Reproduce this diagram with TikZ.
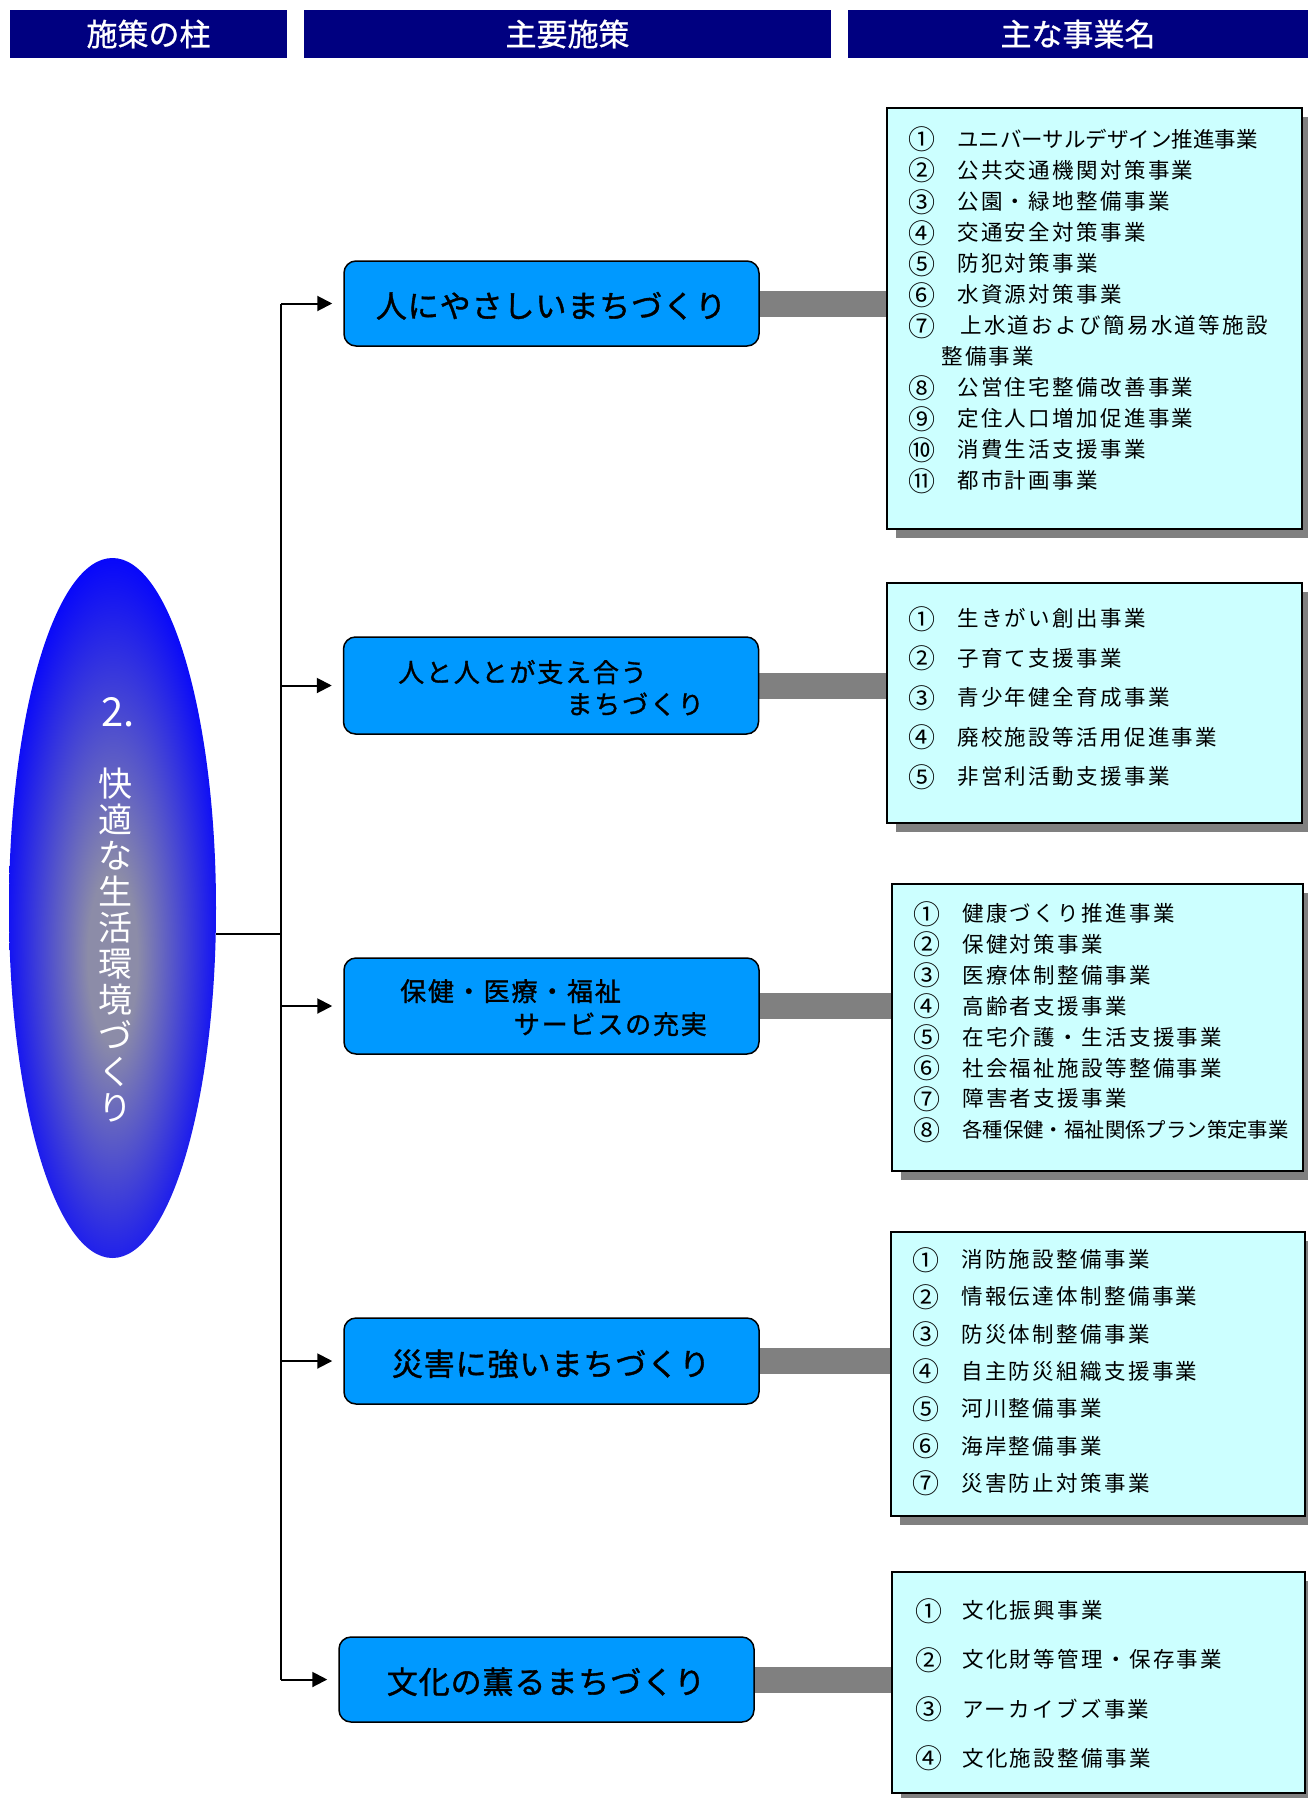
\documentclass[tikz,border=0pt]{standalone}
\usepackage{fontspec}
\setmainfont{Noto Sans CJK JP}
\newfontfamily\jp{Noto Sans CJK JP}
\newfontfamily\jpls[LetterSpace=11]{Noto Sans CJK JP}
\newfontfamily\jpbs[LetterSpace=3,FakeBold=1.2]{Noto Sans CJK JP}
\newfontfamily\jpms[LetterSpace=7,FakeBold=1.2]{Noto Sans CJK JP}
\newfontfamily\jphd[FakeBold=0.8]{Noto Sans CJK JP}
\usetikzlibrary{arrows.meta,shapes.geometric,shadows}
\pgfdeclarelayer{bg}
\pgfsetlayers{bg,main}
\definecolor{navy}{RGB}{0,0,128}
\definecolor{boxblue}{RGB}{0,153,255}
\definecolor{listbg}{RGB}{204,255,255}
\definecolor{bargray}{RGB}{128,128,128}
\definecolor{egray}{RGB}{140,140,168}
\definecolor{eblue}{RGB}{0,0,255}
\pgfdeclareradialshading{ellshade}{\pgfpoint{0bp}{-4bp}}{color(0bp)=(egray); color(6bp)=(egray); color(28bp)=(eblue); color(50bp)=(eblue)}
\newcommand\listfont{\jpls\fontsize{21.5}{24}\selectfont}
\newcommand\listfontn{\jp\fontsize{20.4}{24}\selectfont}
\newcommand\listfontk{\jp\fontsize{21.5}{24}\selectfont}
\newcommand\numf[1]{\makebox[49pt][l]{\raisebox{-2.5pt}{\jp\fontsize{27}{24}\selectfont #1}}}
\newcommand\numw[2]{\makebox[#1][l]{\raisebox{-2.5pt}{\jp\fontsize{27}{24}\selectfont #2}}}
\newcommand\bigfont{\jpbs\fontsize{31}{34}\selectfont}
\newcommand\midfont{\jpms\fontsize{26}{28}\selectfont}
\newcommand\hdrfont{\jphd\fontsize{31}{34}\selectfont}
\newcommand\ellfont{\jp\fontsize{34}{36}\selectfont}
\begin{document}
\begin{tikzpicture}[x=1pt,y=-1pt,
  hdr/.style={fill=navy, text=white, inner sep=0, font=\hdrfont, minimum height=48pt},
  bbox/.style={draw, line width=1.5pt, fill=boxblue, rounded corners=12pt, inner sep=0, minimum width=415pt},
  bigtext/.style={inner sep=0, font=\bigfont, text height=27pt, text depth=4pt},
  midtext/.style={inner sep=0, font=\midfont, text height=23pt, text depth=3pt},
  lbox/.style={draw, line width=1.8pt, fill=listbg, inner sep=0,
    drop shadow={shadow xshift=9pt, shadow yshift=-9pt, fill=black!50, opacity=1}},
  item/.style={anchor=west, inner sep=0, font=\listfont, text height=18pt, text depth=3pt},
  conn/.style={line width=26pt, draw=bargray},
  link/.style={line width=2pt},
  arr/.style={link, -{Triangle[length=15pt,width=15pt]}, shorten >=11pt}]
\useasboundingbox (0,0) rectangle (1308,1798);

% headers
\node[hdr, minimum width=277pt] (h1) at (148.5,34) {施策の柱};
\node[hdr, minimum width=527pt] (h2) at (567.5,34) {主要施策};
\node[hdr, minimum width=460pt] (h3) at (1078,34) {主な事業名};

% ellipse
\node[ellipse, shading=ellshade, draw=none, inner sep=0, minimum width=207pt, minimum height=700pt] (E) at (112.5,908) {};
\node[text=white, inner sep=0, font=\jp\fontsize{40}{40}\selectfont] (E2) at (118,712) {2.};
\node[text=white, inner sep=0, font=\ellfont, align=center] (Et) at (115,945)
  {快\\適\\な\\生\\活\\環\\境\\づ\\く\\り};

% blue boxes
\node[bbox, minimum height=85pt] (B1) at (551.5,303.5) {};
\node[bbox, minimum height=97pt] (B2) at (551,685.5) {};
\node[bbox, minimum height=96pt] (B3) at (551.5,1006) {};
\node[bbox, minimum height=86pt] (B4) at (551.5,1361) {};
\node[bbox, minimum height=85pt] (B5) at (546.5,1679.5) {};

\node[bigtext] (t1) at (551,306) {人にやさしいまちづくり};
\node[midtext, anchor=west] (t2a) at (398,672) {人と人とが支え合う};
\node[midtext, anchor=east] (t2b) at (704,704) {まちづくり};
\node[midtext, anchor=west] (t3a) at (400,991) {保健・医療・福祉};
\node[midtext, anchor=east] (t3b) at (707,1024) {サービスの充実};
\node[bigtext] (t4) at (551,1364) {災害に強いまちづくり};
\node[bigtext] (t5) at (546,1682) {文化の薫るまちづくり};

% list boxes
\node[lbox, minimum width=415pt, minimum height=421pt] (L1) at (1094.5,318.5) {};
\node[lbox, minimum width=415pt, minimum height=240pt] (L2) at (1094.5,703) {};
\node[lbox, minimum width=411pt, minimum height=287pt] (L3) at (1097.5,1027.5) {};
\node[lbox, minimum width=414pt, minimum height=284pt] (L4) at (1098,1374) {};
\node[lbox, minimum width=413pt, minimum height=221pt] (L5) at (1098.5,1682.5) {};

% list 1
\node[item, font=\listfontk] (l1-1) at (908,140) {\numf{①}ユニバーサルデザイン推進事業};
\node[item] (l1-2) at (908,171) {\numf{②}公共交通機関対策事業};
\node[item] (l1-3) at (908,202) {\numf{③}公園・緑地整備事業};
\node[item] (l1-4) at (908,233) {\numf{④}交通安全対策事業};
\node[item] (l1-5) at (908,264) {\numf{⑤}防犯対策事業};
\node[item] (l1-6) at (908,295) {\numf{⑥}水資源対策事業};
\node[item] (l1-7) at (908,326) {\numw{52pt}{⑦}上水道および簡易水道等施設};
\node[item] (l1-7b) at (941,357) {整備事業};
\node[item] (l1-8) at (908,388) {\numf{⑧}公営住宅整備改善事業};
\node[item] (l1-9) at (908,419) {\numf{⑨}定住人口増加促進事業};
\node[item] (l1-10) at (908,450) {\numf{⑩}消費生活支援事業};
\node[item] (l1-11) at (908,481) {\numf{⑪}都市計画事業};

% list 2
\foreach \n/\t [count=\i] in {①/生きがい創出事業, ②/子育て支援事業, ③/青少年健全育成事業, ④/廃校施設等活用促進事業, ⑤/非営利活動支援事業}
  \node[item] (l2-\i) at (908,{619+39.5*(\i-1)}) {\numf{\n}\t};

% list 3
\foreach \n/\t [count=\i] in {①/健康づくり推進事業, ②/保健対策事業, ③/医療体制整備事業, ④/高齢者支援事業, ⑤/在宅介護・生活支援事業, ⑥/社会福祉施設等整備事業, ⑦/障害者支援事業}
  \node[item] (l3-\i) at (913,{914+30.9*(\i-1)}) {\numf{\n}\t};
\node[item, font=\listfontn] (l3-8) at (913,1130) {\numf{⑧}各種保健・福祉関係プラン策定事業};

% list 4
\foreach \n/\t [count=\i] in {①/消防施設整備事業, ②/情報伝達体制整備事業, ③/防災体制整備事業, ④/自主防災組織支援事業, ⑤/河川整備事業, ⑥/海岸整備事業, ⑦/災害防止対策事業}
  \node[item] (l4-\i) at (912,{1260+37.3*(\i-1)}) {\numf{\n}\t};

% list 5
\foreach \n/\t [count=\i] in {①/文化振興事業, ②/文化財等管理・保存事業, ③/アーカイブズ事業, ④/文化施設整備事業}
  \node[item] (l5-\i) at (915,{1611+49.3*(\i-1)}) {\numw{47pt}{\n}\t};

% background and gray connectors
\begin{pgfonlayer}{bg}
\fill[white] (0,0) rectangle (1308,1798);
\foreach \k in {1,...,5}
  \draw[conn] (B\k.east) -- (L\k.west |- B\k.east);
\end{pgfonlayer}

% tree lines
\coordinate (J) at (281,934);
\draw[link] (E.east |- J) -- (J);
\draw[link] (J |- B1.west) -- (J |- B5.west);
\foreach \k in {1,...,5}
  \draw[arr] (J |- B\k.west) -- (B\k.west);
\end{tikzpicture}
\end{document}
